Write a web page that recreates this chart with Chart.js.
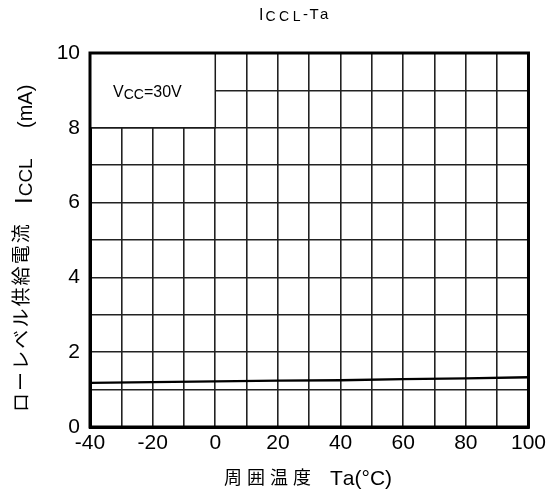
<!DOCTYPE html>
<html>
<head>
<meta charset="utf-8">
<script src="https://cdn.jsdelivr.net/npm/chart.js@4/dist/chart.umd.min.js"></script>
<style>
  html, body { margin: 0; padding: 0; background: #fff; }
  #wrap { width: 550px; height: 497px; }
</style>
</head>
<body>
<div id="wrap"><canvas id="chart" width="550" height="497"></canvas></div>
<script>
  // ICCL vs Ta, VCC = 30V
  const temps = [-40, -20, 0, 20, 40, 60, 80, 100];
  const iccl = [1.18, 1.2, 1.22, 1.24, 1.25, 1.28, 1.3, 1.33];
  const xTicks = [-40, -20, 0, 20, 40, 60, 80, 100];
  const yTicks = [0, 2, 4, 6, 8, 10];
  const noteBox = { x0: -40, x1: 0, y0: 8, y1: 10 };

  const FONT = "'Liberation Sans', Arial, sans-serif";
  const JP = "'Noto Sans CJK JP', sans-serif";

  // one run of text, char by char with extra spacing
  function run(ctx, text, font, x, y, spacing) {
    ctx.font = font;
    let cx = x;
    Array.from(text).forEach((c) => {
      ctx.fillText(c, cx, y);
      cx += ctx.measureText(c).width + (spacing || 0);
    });
    return cx;
  }

  const notePlugin = {
    id: "note",
    beforeDatasetsDraw(chart) {
      const { ctx, chartArea, scales: { x, y } } = chart;
      const l = x.getPixelForValue(noteBox.x0), r = x.getPixelForValue(noteBox.x1);
      const t = y.getPixelForValue(noteBox.y1), b = y.getPixelForValue(noteBox.y0);
      ctx.save();
      ctx.fillStyle = "#fff";
      ctx.fillRect(l, t, r - l, b - t);
      ctx.strokeStyle = "#1a1a1a";
      ctx.lineWidth = 1.5;
      ctx.beginPath();
      ctx.moveTo(r, t);
      ctx.lineTo(r, b);
      ctx.lineTo(l, b);
      ctx.stroke();
      // heavy frame round the plot
      ctx.strokeStyle = "#000";
      ctx.lineWidth = 3;
      ctx.strokeRect(chartArea.left, chartArea.top, chartArea.right - chartArea.left, chartArea.bottom - chartArea.top);
      ctx.fillStyle = "#000";
      ctx.textBaseline = "alphabetic";
      let cx = run(ctx, "V", "16px " + FONT, 113, 97);
      cx = run(ctx, "CC", "14px " + FONT, cx, 99);
      run(ctx, "=30V", "16px " + FONT, cx, 97);
      ctx.restore();
    },
    afterDraw(chart) {
      const { ctx } = chart;
      ctx.save();
      ctx.fillStyle = "#000";
      ctx.textBaseline = "alphabetic";
      // title
      let cx = run(ctx, "I", "16px " + FONT, 259, 20);
      cx = run(ctx, "CCL", "14px " + FONT, cx + 2, 21, 3.5);
      run(ctx, "-Ta", "15px " + FONT, cx - 1, 19, 1.5);
      // x title
      run(ctx, "周囲温度", "18px " + JP, 224, 484, 5);
      run(ctx, "Ta(°C)", "21px " + FONT, 330, 485);
      // y title, rotated; u runs upward from the bottom
      ctx.rotate(-Math.PI / 2);
      run(ctx, "ローレベル供給電流", "19px " + JP, -412, 28, 2.1);
      cx = run(ctx, "I", "24px " + FONT, -204, 32);
      run(ctx, "CCL", "19px " + FONT, cx + 1, 32);
      run(ctx, "(mA)", "20px " + FONT, -128, 32);
      ctx.restore();
    }
  };

  const ctx = document.getElementById("chart").getContext("2d");
  new Chart(ctx, {
    type: "line",
    data: {
      datasets: [
        {
          data: temps.map((t, i) => ({ x: t, y: iccl[i] })),
          borderColor: "#000",
          borderWidth: 2.4,
          pointRadius: 0,
          fill: false,
          tension: 0
        }
      ]
    },
    options: {
      responsive: false,
      animation: false,
      layout: { padding: { top: 53, right: 21, left: 0, bottom: 0 } },
      plugins: { legend: { display: false }, tooltip: { enabled: false } },
      scales: {
        x: {
          type: "linear",
          min: -40,
          max: 100,
          afterFit: (s) => { s.height = 70; },
          afterBuildTicks: (s) => { s.ticks = []; for (let v = -40; v <= 100; v += 10) s.ticks.push({ value: v }); },
          ticks: {
            autoSkip: false,
            maxRotation: 0,
            padding: 4,
            color: "#000",
            font: { family: FONT, size: 21 },
            callback: (v) => (xTicks.includes(v) ? String(v) : "")
          },
          grid: { color: "#222", lineWidth: 1.6, drawTicks: false },
          border: { color: "#000", width: 3 }
        },
        y: {
          min: 0,
          max: 10,
          afterFit: (s) => { s.width = 90; },
          afterBuildTicks: (s) => { s.ticks = []; for (let v = 0; v <= 10; v += 1) s.ticks.push({ value: v }); },
          ticks: {
            autoSkip: false,
            padding: 10,
            color: "#000",
            font: { family: FONT, size: 21 },
            callback: (v) => (yTicks.includes(v) ? String(v) : "")
          },
          grid: { color: "#222", lineWidth: 1.6, drawTicks: false },
          border: { color: "#000", width: 3 }
        }
      }
    },
    plugins: [notePlugin]
  });
</script>
</body>
</html>
